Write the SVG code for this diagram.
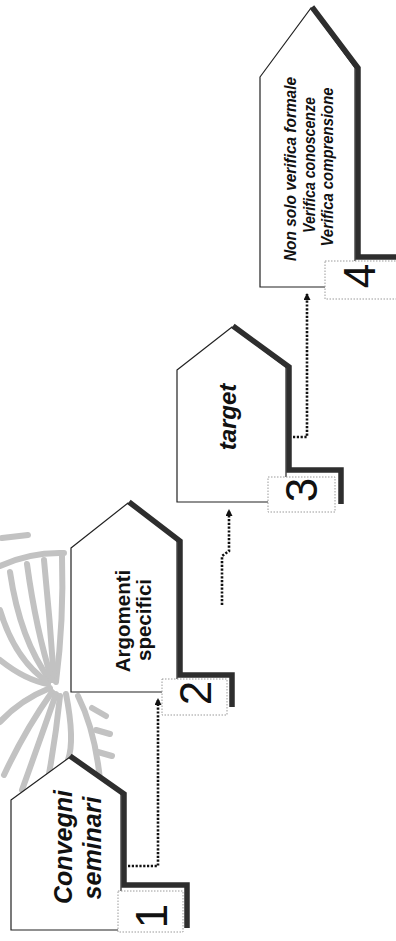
<svg xmlns="http://www.w3.org/2000/svg" width="396" height="941" viewBox="0 0 396 941">
  <defs>
    <marker id="arrowUp" markerWidth="7" markerHeight="7" refX="6" refY="3.5" orient="auto" markerUnits="userSpaceOnUse">
      <path d="M0,0 L7,3.5 L0,7 Z" fill="#111"/>
    </marker>
    <style>
      .house { fill: #fff; stroke: #222; stroke-width: 1.2; stroke-linejoin: miter; }
      .shade { fill: none; stroke: #2e2e2e; stroke-width: 5.5; stroke-linejoin: miter; stroke-linecap: butt; }
      .tag { fill: #fff; stroke: #9a9a9a; stroke-width: 1; stroke-dasharray: 1.5 1.5; }
      .digit { font-family: "Liberation Sans", Arial, sans-serif; font-size: 44px; fill: #111; text-anchor: middle; }
      .label { font-family: "Liberation Sans", Arial, sans-serif; font-weight: bold; fill: #111; text-anchor: middle; }
      .it { font-style: italic; }
      .dots { fill: none; stroke: #111; stroke-width: 2.6; stroke-dasharray: 2.2 1.6; }
      .leaf { fill: none; stroke: #c2c2c2; stroke-width: 6; stroke-linecap: round; }
    </style>
  </defs>

  <rect width="396" height="941" fill="#fff"/>

  <!-- faint fan ornament in the background -->
  <g id="ornament">
    <path class="leaf" stroke-width="1.2" d="M2,538 L28,535"/>
    <path class="leaf" stroke-width="7" d="M0,566 Q30,552 64,553"/>
    <path class="leaf" d="M62,556 Q64,620 56,682"/>
    <path class="leaf" d="M44,560 Q50,620 54,680"/>
    <path class="leaf" d="M27,564 Q36,630 52,680"/>
    <path class="leaf" d="M10,572 Q20,640 50,680"/>
    <path class="leaf" d="M0,610 Q15,660 48,682"/>
    <path class="leaf" d="M0,660 Q25,680 48,684"/>
    <path class="leaf" d="M50,688 Q20,700 0,722"/>
    <path class="leaf" d="M52,692 Q25,730 4,775"/>
    <path class="leaf" d="M56,694 Q40,740 22,790"/>
    <path class="leaf" d="M60,696 Q55,745 45,795"/>
    <path class="leaf" d="M66,694 Q75,740 68,760"/>
    <path class="leaf" stroke-width="10" d="M78,696 Q95,730 100,780"/>
    <path class="leaf" stroke-width="3" d="M92,708 L106,716 M96,730 L110,734 M98,752 L112,756"/>
  </g>

  <!-- dotted connectors between the steps -->
  <g id="connectors">
    <path class="dots" d="M128,866 L158,866 L158,699" marker-end="url(#arrowUp)"/>
    <path class="dots" d="M222,605 L222,556 L229,551 L229,510" marker-end="url(#arrowUp)"/>
    <path class="dots" d="M293,437 L307,437 L307,294" marker-end="url(#arrowUp)"/>
  </g>

  <!-- step 1 -->
  <g id="step1">
    <polygon class="house" points="11,800 70,757 121,793 121,930 11,930"/>
    <path class="shade" d="M70,756 L124,794 L124,885 L187,885 L187,928"/>
    <rect class="tag" x="118" y="891" width="65" height="41"/>
    <text class="digit" transform="translate(167,916) rotate(-90)">1</text>
    <text class="label it" font-size="25" transform="translate(72,847) rotate(-90)">Convegni</text>
    <text class="label it" font-size="25" transform="translate(101,848) rotate(-90)">seminari</text>
  </g>

  <!-- step 2 -->
  <g id="step2">
    <polygon class="house" points="71,548 128,503 177,540 177,692 71,692"/>
    <path class="shade" d="M129,502 L180,541 L180,675 L232,675 L232,707"/>
    <rect class="tag" x="162" y="679" width="65" height="36"/>
    <text class="digit" transform="translate(211,693) rotate(-90)">2</text>
    <text class="label" font-size="20.5" transform="translate(130,621) rotate(-90)">Argomenti</text>
    <text class="label" font-size="20.5" transform="translate(151,620) rotate(-90)">specifici</text>
  </g>

  <!-- step 3 -->
  <g id="step3">
    <polygon class="house" points="177,370 232,327 286,367 286,502 177,502"/>
    <path class="shade" d="M233,326 L289,367 L289,470 L341,470 L341,504"/>
    <rect class="tag" x="268" y="477" width="67" height="35"/>
    <text class="digit" transform="translate(317,490) rotate(-90)">3</text>
    <text class="label it" font-size="24" transform="translate(236,417) rotate(-90)">target</text>
  </g>

  <!-- step 4 -->
  <g id="step4">
    <polygon class="house" points="260,77 311,8 355,68 355,287 260,287"/>
    <path class="shade" d="M312,7 L358,68 L358,257 L398,257"/>
    <rect class="tag" x="325" y="261" width="80" height="38"/>
    <text class="digit" transform="translate(375,276) rotate(-90)">4</text>
    <text class="label it" font-size="17" transform="translate(296,169) rotate(-90)" textLength="184" lengthAdjust="spacingAndGlyphs">Non solo verifica formale</text>
    <text class="label it" font-size="17" transform="translate(315,165) rotate(-90)" textLength="136" lengthAdjust="spacingAndGlyphs">Verifica conoscenze</text>
    <text class="label it" font-size="17" transform="translate(333,167) rotate(-90)" textLength="159" lengthAdjust="spacingAndGlyphs">Verifica comprensione</text>
  </g>
</svg>
